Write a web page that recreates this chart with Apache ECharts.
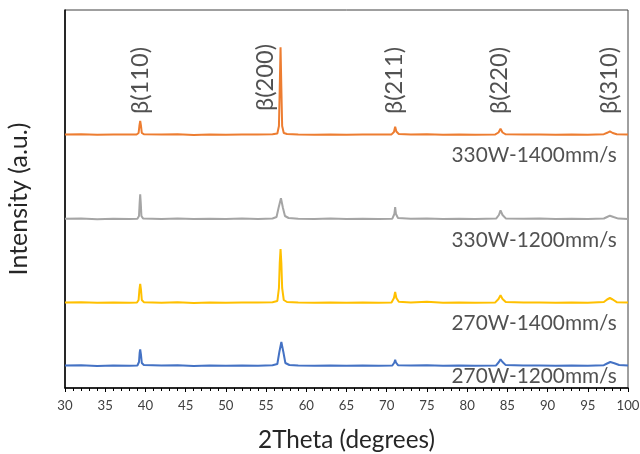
<!DOCTYPE html>
<html>
<head>
<meta charset="utf-8">
<script src="https://cdn.jsdelivr.net/npm/echarts@6/dist/echarts.min.js"></script>
<style>html,body{margin:0;padding:0;background:#fff}#c{width:640px;height:454px}</style>
</head>
<body>
<div id="c"></div>
<script>
// ---- data (2Theta in degrees, intensity in arbitrary units incl. vertical stacking offset) ----
var seriesNames = ['330W-1400mm/s', '330W-1200mm/s', '270W-1400mm/s', '270W-1200mm/s'];
var seriesColors = ['#ED7D31', '#A5A5A5', '#FFC000', '#4472C4'];

var s330_1400 = [[30,253.5],[32,253.8],[34,253.2],[36,253.6],[38,253.4],[38.9,253.5],[39.15,255],[39.25,262],[39.35,267],[39.45,262],[39.55,255],[39.8,253.8],[42,253.4],[44,253.7],[46,253.1],[48,253.5],[50,253.3],[52,253.6],[54,253.4],[55.8,253.8],[56.4,254.5],[56.6,262],[56.7,300],[56.8,340.7],[56.9,300],[57.0,262],[57.2,255],[57.6,254],[59,253.5],[61,253.2],[63,253.6],[65,253.3],[67,253.5],[69,253.4],[70.6,253.6],[70.9,256],[71.05,261.3],[71.2,256.5],[71.5,254],[73,253.4],[75,253.8],[77,253.3],[79,253.5],[81,253.2],[83.5,253.6],[83.9,255.5],[84.15,259.3],[84.4,255.5],[84.8,253.7],[87,253.4],[89,253.6],[91,253.2],[93,253.5],[95,253.3],[97,253.8],[97.5,255.5],[97.75,256.7],[98.1,255],[98.6,253.7],[100,253.4]];

var s330_1200 = [[30,169.2],[32,169.5],[34,168.8],[36,169.3],[38,169.0],[39.0,169.2],[39.2,172],[39.28,185],[39.35,193.7],[39.42,185],[39.5,172],[39.7,169.6],[42,169.1],[44,169.4],[46,168.9],[48,169.3],[50,169.0],[52,169.4],[54,169.1],[55.8,169.5],[56.3,171],[56.55,180],[56.85,189.7],[57.1,180],[57.35,172],[57.8,170],[59,169.3],[61,169.0],[63,169.4],[65,169.1],[67,169.3],[69,169.0],[70.7,169.3],[70.95,174],[71.05,181],[71.15,174],[71.4,170],[73,169.2],[75,169.5],[77,169.0],[79,169.3],[81,169.1],[83.6,169.4],[83.95,173],[84.15,177.7],[84.4,173],[84.8,169.6],[87,169.2],[89,169.4],[91,169.0],[93,169.3],[95,169.1],[97,169.5],[97.4,171],[97.75,172.3],[98.2,171],[98.8,169.4],[100,169.1]];

var s270_1400 = [[30,85.5],[32,85.8],[34,85.2],[36,85.6],[38,85.3],[38.95,85.5],[39.15,88],[39.25,98],[39.35,104],[39.45,98],[39.55,88],[39.8,85.8],[42,85.3],[44,85.7],[46,85.1],[48,85.5],[50,85.2],[52,85.6],[54,85.4],[55.8,85.8],[56.4,87],[56.6,100],[56.7,125],[56.8,139],[56.9,125],[57.0,100],[57.2,88],[57.6,86],[59,85.5],[61,85.2],[63,85.6],[65,85.3],[67,85.5],[69,85.2],[70.6,85.6],[70.9,90],[71.05,96],[71.2,90],[71.5,86.2],[73,85.4],[75,86.3],[77,85.3],[79,85.5],[81,85.2],[83.5,85.6],[83.9,89],[84.15,92.7],[84.4,89],[84.8,86],[87,85.4],[89,85.6],[91,85.2],[93,85.5],[95,85.3],[97,86],[97.4,88.5],[97.75,90],[98.1,88.5],[98.6,85.8],[100,85.4]];

var s270_1200 = [[30,22.4],[32,22.7],[34,22.1],[36,22.5],[38,22.2],[39.0,22.5],[39.2,26],[39.28,35],[39.35,38.7],[39.45,33],[39.55,25],[39.8,23],[42,22.4],[44,22.7],[46,22.1],[48,22.5],[50,22.2],[52,22.6],[54,22.3],[55.8,22.8],[56.4,24],[56.65,36],[56.9,46],[57.15,36],[57.4,25],[57.9,23],[59,22.5],[61,22.2],[63,22.6],[65,22.3],[67,22.5],[69,22.2],[70.7,22.5],[70.95,25.5],[71.05,28.3],[71.15,25.5],[71.4,22.8],[73,22.4],[75,22.7],[77,22.2],[79,22.5],[81,22.2],[83.6,22.6],[83.95,26],[84.15,28.7],[84.4,26],[84.8,22.9],[87,22.4],[89,22.6],[91,22.2],[93,22.5],[95,22.3],[97,22.8],[97.4,24.5],[97.8,26],[98.3,24.8],[98.9,23],[100,22.5]];

var peakLabels = ['β(110)', 'β(200)', 'β(211)', 'β(220)', 'β(310)'];
var peakLabelX = [39.35, 54.9, 71.0, 84.0, 97.7];
var xTickMin = 30, xTickMax = 100, xTickStep = 5;
var yAxisTitle = 'Intensity (a.u.)';
var xAxisTitle = '2Theta (degrees)';

// ---- font sizing: fit font size to the text widths seen in the reference ----
var FONT = 'Lato';
var mctx = document.createElement('canvas').getContext('2d');
function fitSize(text, targetW) {
  mctx.font = '100px ' + FONT;
  var w = mctx.measureText(text).width;
  return Math.round(100 * targetW / w * 10) / 10;
}
var nameSize = fitSize('330W-1400mm/s', 165);
var peakSize = fitSize('β(110)', 67);
var xTitleSize = fitSize(xAxisTitle, 177);
var yTitleSize = fitSize(yAxisTitle, 153);
var tickSize = fitSize('100', 23);

// ---- build chart ----
var allData = [s330_1400, s330_1200, s270_1400, s270_1200];
var baselines = [253.3, 169, 85.3, 22.3];
var nameDrop = [21, 21, 21, 11];

var series = allData.map(function (d, i) {
  return {
    type: 'line', name: seriesNames[i], data: d, showSymbol: false, symbol: 'none',
    lineStyle: { color: seriesColors[i], width: 2 }, z: 3, animation: false
  };
});

series.push({
  type: 'scatter', symbolSize: 0, animation: false, silent: true,
  data: peakLabelX.map(function (x, i) { return { value: [x, i === 1 ? 277 : 274], name: peakLabels[i] }; }),
  label: {
    show: true, position: 'inside', rotate: 90, align: 'left', verticalAlign: 'middle',
    formatter: function (p) { return p.name; },
    fontFamily: FONT, fontSize: peakSize, color: '#262626'
  }
});

series.push({
  type: 'scatter', symbolSize: 0, animation: false, silent: true,
  data: seriesNames.map(function (n, i) { return { value: [98.6, baselines[i] - nameDrop[i]], name: n }; }),
  label: {
    show: true, position: 'inside', align: 'right', verticalAlign: 'middle',
    formatter: function (p) { return p.name; },
    fontFamily: FONT, fontSize: nameSize, color: '#262626'
  }
});

var chart = echarts.init(document.getElementById('c'), null, { renderer: 'canvas' });
chart.setOption({
  animation: false,
  backgroundColor: '#fff',
  grid: { left: 65, right: 12, top: 10, bottom: 66, containLabel: false, outerBoundsMode: 'none',
          show: true, borderColor: '#404040', borderWidth: 1 },
  xAxis: {
    type: 'value', min: xTickMin, max: xTickMax, interval: xTickStep,
    name: xAxisTitle, nameLocation: 'middle', nameGap: 40,
    nameTextStyle: { fontFamily: FONT, fontSize: xTitleSize, color: '#262626' },
    axisLine: { show: true, onZero: false, lineStyle: { color: '#000', width: 1.5 } },
    axisTick: { show: true, inside: false, length: 4, lineStyle: { color: '#000' } },
    minorTick: { show: true, splitNumber: 5, length: 3, lineStyle: { color: '#000' } },
    axisLabel: { fontFamily: FONT, fontSize: tickSize, color: '#404040', margin: 11 },
    splitLine: { show: false }
  },
  yAxis: {
    type: 'value', min: 0, max: 378,
    name: yAxisTitle, nameLocation: 'middle', nameGap: 34,
    nameTextStyle: { fontFamily: FONT, fontSize: yTitleSize, color: '#262626' },
    axisLine: { show: true, onZero: false, lineStyle: { color: '#000', width: 1.5 } },
    axisTick: { show: false }, axisLabel: { show: false }, splitLine: { show: false }
  },
  series: series
});
</script>
</body>
</html>
